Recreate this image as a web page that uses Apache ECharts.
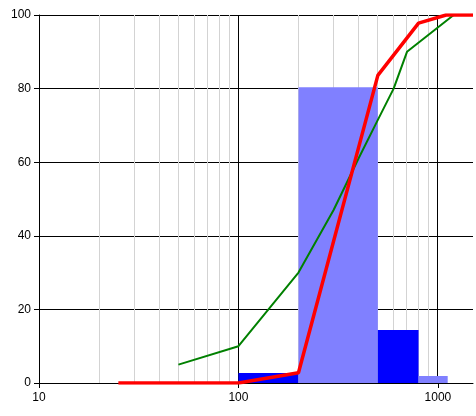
<!DOCTYPE html>
<html>
<head>
    <meta charset="utf-8">
    <title>ECharts</title>
    <script src="https://cdn.jsdelivr.net/npm/echarts@6.0.0/dist/echarts.min.js"></script>
    <style>
        html, body { margin: 0; padding: 0; background: #fff; }
    </style>
</head>
<body>
    <div id="main" style="width: 476px;height:416px;"></div>
    <script type="text/javascript">
        var myChart = echarts.init(document.getElementById('main'));

        // histogram classes (log x)
        var barFrom = [100, 200, 500, 800];
        var barTo = [200, 500, 800, 1120];
        var barValue = [2.7, 80.4, 14.4, 1.9];

        // green curve
        var greenX = [50, 100, 200, 300, 400, 500, 600, 700, 1200];
        var greenY = [5, 10, 30, 47, 61, 71.5, 80, 90, 100];

        // red curve
        var redX = [25, 100, 200, 500, 800, 1100, 1500];
        var redY = [0, 0, 2.8, 83.6, 97.8, 100, 100];

        var xTicks = [10, 100, 1000];
        var yTicks = [0, 20, 40, 60, 80, 100];
        var xMajorGrid = [100, 1000];
        var xMinorGrid = [20, 30, 40, 50, 60, 70, 80, 90, 200, 300, 400, 500, 600, 700, 800, 900];

        function zip(a, b) {
            return a.map(function (v, i) { return [v, b[i]]; });
        }

        // vertical grid line, snapped to the pixel grid so it stays crisp
        function vline(color) {
            return function (params, api) {
                var top = api.coord([api.value(0), yTicks[yTicks.length - 1]]);
                var bot = api.coord([api.value(0), yTicks[0]]);
                var x = Math.floor(top[0]) + 0.5;
                return {
                    type: 'line',
                    shape: { x1: x, y1: top[1], x2: x, y2: bot[1] },
                    style: { stroke: color, lineWidth: 1 }
                };
            };
        }

        var option = {
            animation: false,
            textStyle: { fontFamily: 'Liberation Sans' },
            grid: { left: 39, right: 3, top: 15, bottom: 33, containLabel: false },
            xAxis: {
                type: 'log',
                logBase: 10,
                min: 10,
                max: 1500,
                axisLine: { lineStyle: { color: '#000', width: 1 } },
                axisTick: { show: true, length: 5, customValues: xTicks, lineStyle: { color: '#000' } },
                axisLabel: {
                    customValues: xTicks,
                    color: '#000', fontSize: 12, margin: 9,
                    formatter: function (v) {
                        var r = Math.round(v);
                        return xTicks.indexOf(r) >= 0 ? String(r) : '';
                    }
                },
                splitLine: { show: false }
            },
            yAxis: {
                type: 'value',
                min: 0,
                max: 100,
                interval: 20,
                axisLine: { show: true, lineStyle: { color: '#000', width: 1 } },
                axisTick: { show: true, length: 5, lineStyle: { color: '#000' } },
                axisLabel: { color: '#000', fontSize: 12, margin: 8 },
                splitLine: { show: true, lineStyle: { color: '#000', width: 1 } }
            },
            series: [{
                name: 'minor grid',
                type: 'custom',
                z: 1,
                silent: true,
                renderItem: vline('#D3D3D3'),
                encode: { x: 0, y: 1 },
                data: xMinorGrid.map(function (v) { return [v, 0]; })
            }, {
                name: 'major grid',
                type: 'custom',
                z: 1,
                silent: true,
                renderItem: vline('#000'),
                encode: { x: 0, y: 1 },
                data: xMajorGrid.map(function (v) { return [v, 0]; })
            }, {
                name: 'bars',
                type: 'custom',
                z: 3,
                renderItem: function (params, api) {
                    var p0 = api.coord([api.value(0), api.value(2)]);
                    var p1 = api.coord([api.value(1), 0]);
                    return {
                        type: 'rect',
                        shape: { x: p0[0], y: p0[1], width: p1[0] - p0[0], height: p1[1] - p0[1] },
                        style: { fill: params.dataIndex % 2 ? '#8080FF' : '#0000FF' }
                    };
                },
                encode: { x: [0, 1], y: 2 },
                data: barFrom.map(function (v, i) { return [v, barTo[i], barValue[i]]; })
            }, {
                name: 'green',
                type: 'line',
                z: 4,
                showSymbol: false,
                symbol: 'none',
                lineStyle: { color: '#008000', width: 2 },
                data: zip(greenX, greenY)
            }, {
                name: 'red',
                type: 'line',
                z: 5,
                showSymbol: false,
                symbol: 'none',
                lineStyle: { color: '#FF0000', width: 3.5 },
                data: zip(redX, redY)
            }]
        };

        myChart.setOption(option);
    </script>
</body>
</html>
